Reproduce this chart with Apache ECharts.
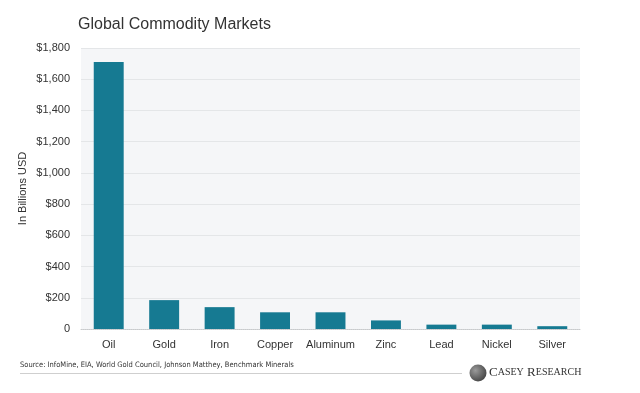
<!DOCTYPE html>
<html>
<head>
<meta charset="utf-8">
<script src="https://cdn.jsdelivr.net/npm/echarts@6/dist/echarts.min.js"></script>
<style>
html,body{margin:0;padding:0;background:#fff;}
#chart{width:640px;height:393px;}
</style>
</head>
<body>
<div id="chart"></div>
<script>
var categories = ['Oil','Gold','Iron','Copper','Aluminum','Zinc','Lead','Nickel','Silver'];
var values = [1710, 185, 140, 107, 107, 55, 28, 28, 18];
var yTicks = {min: 0, max: 1800, interval: 200};
var titleText = 'Global Commodity Markets';
var yAxisName = 'In Billions USD';
var sourceText = 'Source: InfoMine, EIA, World Gold Council, Johnson Matthey, Benchmark Minerals';

var chart = echarts.init(document.getElementById('chart'), null, {renderer: 'canvas'});
var baseFont = 'Liberation Sans, Arial, sans-serif';
chart.setOption({
  animation: false,
  backgroundColor: '#ffffff',
  title: {
    text: titleText,
    left: 73, top: 12,
    textStyle: {fontFamily: baseFont, fontSize: 16, fontWeight: 'normal', color: '#333333'}
  },
  grid: {
    left: 81, right: 60, top: 48, bottom: 64,
    show: true, backgroundColor: '#f5f6f8', borderWidth: 0
  },
  xAxis: {
    type: 'category',
    data: categories,
    axisTick: {show: false},
    axisLine: {show: true, lineStyle: {color: '#c8cacc', type: 'dotted', width: 1}},
    axisLabel: {fontFamily: baseFont, fontSize: 11, color: '#333333', margin: 10, interval: 0}
  },
  yAxis: {
    type: 'value',
    min: yTicks.min, max: yTicks.max, interval: yTicks.interval,
    name: yAxisName,
    nameLocation: 'middle',
    nameGap: 53,
    nameMoveOverlap: false,
    nameTextStyle: {fontFamily: baseFont, fontSize: 11, color: '#333333'},
    axisLine: {show: false},
    axisTick: {show: false},
    splitLine: {lineStyle: {color: '#e4e6e8', width: 1}},
    axisLabel: {
      fontFamily: baseFont, fontSize: 11, color: '#333333', margin: 11,
      formatter: function (v) { return v === 0 ? '0' : '$' + v.toLocaleString('en-US'); }
    }
  },
  series: [{
    type: 'bar',
    data: values,
    barWidth: '54%',
    itemStyle: {color: '#167a92'}
  }],
  graphic: [
    {
      type: 'text', left: 20, top: 361,
      style: {text: sourceText, font: '7.5px "Liberation Sans Narrow", "DejaVu Sans Condensed", "Liberation Sans", sans-serif', fill: '#333333'}
    },
    {
      type: 'line', shape: {x1: 20, y1: 373.5, x2: 462, y2: 373.5},
      style: {stroke: '#cfcfcf', lineWidth: 1}
    },
    {
      type: 'circle', shape: {cx: 478, cy: 373, r: 8.5},
      style: {fill: new echarts.graphic.RadialGradient(0.35, 0.35, 0.8, [
        {offset: 0, color: '#9a9a9a'}, {offset: 1, color: '#3a3a3a'}
      ])}
    },
    {
      type: 'text', left: 489, top: 366,
      style: {
        rich: {
          b: {fontFamily: 'Liberation Serif, serif', fontSize: 13, fill: '#333333', color: '#333333'},
          s: {fontFamily: 'Liberation Serif, serif', fontSize: 10, fill: '#333333', color: '#333333'}
        },
        text: '{b|C}{s|ASEY} {b|R}{s|ESEARCH}',
        fill: '#333333'
      }
    }
  ]
});
</script>
</body>
</html>
